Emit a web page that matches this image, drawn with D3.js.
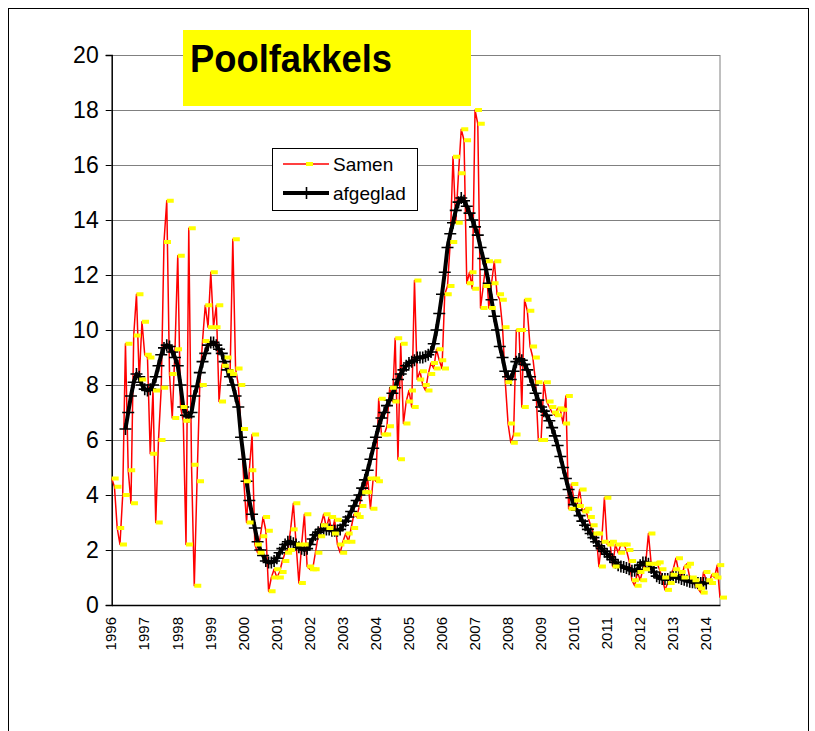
<!DOCTYPE html>
<html>
<head>
<meta charset="utf-8">
<script src="https://cdn.jsdelivr.net/npm/d3@7"></script>
<style>
  body { margin: 0; background: #fff; }
  text { font-family: Arial, "Liberation Sans", sans-serif; }
</style>
</head>
<body>
<svg id="chart" width="815" height="731"></svg>
<script>
// monthly values, jan 1996 .. jun 2014
const yearLabels = ["1996","1997","1998","1999","2000","2001","2002","2003","2004","2005",
                    "2006","2007","2008","2009","2010","2011","2012","2013","2014"];
const yTicks = [0, 2, 4, 6, 8, 10, 12, 14, 16, 18, 20];

const samen = [
  4.6, 4.3, 2.8, 2.2, 4.0, 9.5, 4.9, 3.7, 9.8, 11.3, 8.2, 10.3,      // 1996
  9.1, 9.0, 5.5, 7.8, 3.0, 6.0, 7.9, 13.2, 14.7, 8.4, 6.8, 9.3,      // 1997
  12.7, 7.2, 6.7, 2.2, 13.7, 5.1, 0.7, 4.5, 8.0, 9.6, 10.9, 10.1,    // 1998
  12.1, 10.1, 10.9, 7.4, 8.7, 9.0, 8.5, 8.4, 13.3, 8.6, 8.0, 6.4,    // 1999
  4.5, 3.0, 4.9, 6.2, 2.2, 1.9, 2.5, 3.2, 2.7, 0.5, 1.0, 1.3,        // 2000
  1.0, 1.2, 1.6, 1.9, 2.0, 2.75, 3.7, 2.2, 0.8, 2.2, 3.3, 1.4,       // 2001
  1.3, 1.3, 1.9, 2.5, 2.9, 3.3, 2.8, 3.2, 2.6, 3.1, 2.2, 1.9,        // 2002
  2.3, 2.6, 2.3, 2.8, 3.3, 3.2, 3.6, 4.1, 4.1, 4.6, 3.5, 4.6,        // 2003
  4.5, 7.5, 6.2, 6.2, 6.5, 7.9, 7.4, 9.7, 5.3, 9.5, 6.6, 7.4,        // 2004
  7.8, 7.2, 11.8, 8.2, 8.5, 8.0, 7.8, 8.4, 8.8, 8.6, 9.3, 8.9,       // 2005
  8.6, 11.3, 11.6, 13.2, 16.3, 13.9, 15.7, 17.3, 16.9, 11.7, 12.1, 11.5, // 2006
  18.0, 17.5, 10.8, 11.6, 12.5, 10.8, 11.7, 12.5, 11.3, 11.1, 10.1, 8.1, // 2007
  6.6, 5.9, 6.2, 10.0, 10.0, 7.2, 11.1, 10.7, 9.4, 9.0, 8.1, 6.0,    // 2008
  6.0, 8.1, 7.4, 7.2, 7.0, 6.9, 7.15, 7.1, 6.6, 7.6, 3.5, 4.4,       // 2009
  3.8, 3.6, 4.2, 3.4, 3.5, 3.2, 2.9, 2.6, 2.6, 1.4, 2.3, 3.9,        // 2010
  2.2, 2.3, 1.4, 2.2, 1.9, 2.2, 2.2, 2.0, 1.6, 0.9, 0.7, 1.2,        // 2011
  0.9, 1.3, 1.5, 2.6, 1.5, 1.5, 1.55, 1.3, 1.0, 0.55, 0.8, 1.1,      // 2012
  1.3, 1.7, 1.2, 1.0, 1.4, 1.5, 1.0, 0.9, 0.7, 0.6, 0.45, 1.2,       // 2013
  0.9, 0.8, 1.1, 1.0, 1.45, 0.27                                     // 2014
];

// smoothed series, starts at month index 5 (jun 1996)
const afgegladStart = 5;
const afgeglad = [
  6.4, 7.0, 7.6, 8.1, 8.4, 8.3, 8.0, 7.85, 7.8, 7.85, 8.0, 8.3,
  8.7, 9.1, 9.35, 9.45, 9.4, 9.2, 9.0, 8.7, 8.0, 7.2, 6.9, 6.85,
  7.0, 7.6, 7.95, 8.45, 8.85, 9.15, 9.45, 9.55, 9.55, 9.45, 9.3, 9.15,
  8.85, 8.55, 8.3, 8.0, 7.6, 7.2, 6.1, 5.3, 4.5, 3.8, 3.3, 2.8,
  2.3, 2.0, 1.8, 1.6, 1.55, 1.55, 1.6, 1.7, 1.9, 2.05, 2.2, 2.3,
  2.3, 2.25, 2.2, 2.1, 2.05, 2.0, 2.05, 2.2, 2.4, 2.55, 2.65, 2.75,
  2.75, 2.75, 2.75, 2.7, 2.7, 2.7, 2.75, 2.9, 3.05, 3.2, 3.4, 3.6,
  3.8, 4.0, 4.25, 4.55, 4.9, 5.3, 5.7, 6.1, 6.5, 6.8, 7.0, 7.25,
  7.45, 7.7, 7.9, 8.2, 8.4, 8.55, 8.7, 8.8, 8.85, 8.9, 9.0, 9.0,
  9.0, 9.05, 9.1, 9.2, 9.5, 10.0, 10.6, 11.3, 12.1, 13.0, 13.5, 13.9,
  14.35, 14.65, 14.8, 14.7, 14.5, 14.25, 14.0, 13.75, 13.45, 13.0, 12.6, 12.2,
  11.7, 11.1, 10.5, 10.0, 9.4, 9.0, 8.5, 8.3, 8.2, 8.5, 8.85, 8.95,
  8.9, 8.75, 8.55, 8.3, 8.0, 7.7, 7.45, 7.2, 7.05, 6.9, 6.7, 6.45,
  6.15, 5.8, 5.4, 5.0, 4.6, 4.2, 3.9, 3.65, 3.45, 3.25, 3.05, 2.9,
  2.75, 2.6, 2.45, 2.3, 2.15, 2.05, 1.95, 1.85, 1.75, 1.65, 1.55, 1.45,
  1.4, 1.38, 1.35, 1.3, 1.25, 1.25, 1.3, 1.45, 1.55, 1.55, 1.5, 1.35,
  1.2, 1.05, 0.98, 0.95, 0.95, 0.95, 1.0, 1.02, 1.02, 1.0, 0.95, 0.92,
  0.88, 0.85, 0.83, 0.82, 0.8, 0.8, 0.8, 0.78
];

const svg = d3.select("#chart");

const x = d3.scaleLinear().domain([0, samen.length - 1]).range([111.7, 720]);
const y = d3.scaleLinear().domain([0, 20]).range([605, 55]);

// outer frame
svg.append("rect")
  .attr("x", 8.5).attr("y", 8.5)
  .attr("width", 800).attr("height", 760)
  .attr("fill", "none").attr("stroke", "#000");

// horizontal gridlines
svg.append("g")
  .selectAll("line")
  .data(yTicks.filter(d => d > 0))
  .join("line")
  .attr("x1", x(0)).attr("x2", x(samen.length - 1))
  .attr("y1", d => Math.round(y(d)) + 0.5).attr("y2", d => Math.round(y(d)) + 0.5)
  .attr("stroke", "#808080").attr("stroke-width", 1);

// right border of the plot
svg.append("line")
  .attr("x1", x(samen.length - 1)).attr("x2", x(samen.length - 1))
  .attr("y1", y(20)).attr("y2", y(0))
  .attr("stroke", "#808080");

// y axis
const yAxis = svg.append("g")
  .attr("transform", "translate(" + x(0) + ",0)")
  .call(d3.axisLeft(y).tickValues(yTicks).tickSize(6).tickPadding(7).tickFormat(d3.format("d")));
yAxis.select(".domain").attr("stroke", "#000").attr("stroke-width", 1.5);
yAxis.selectAll(".tick line").attr("stroke", "#000");
yAxis.selectAll("text")
  .attr("font-size", 23).attr("font-family", "Arial, 'Liberation Sans', sans-serif").attr("fill", "#000");

// x axis (category axis, label every 12 months)
const xAxis = svg.append("g")
  .attr("transform", "translate(0," + y(0) + ")")
  .call(d3.axisBottom(x)
    .tickValues(yearLabels.map((d, i) => i * 12))
    .tickSize(0)
    .tickFormat((d, i) => yearLabels[i]));
xAxis.select(".domain").attr("stroke", "#000").attr("stroke-width", 1.5);
xAxis.selectAll("text")
  .attr("font-size", 15).attr("font-family", "Arial, 'Liberation Sans', sans-serif").attr("fill", "#000")
  .attr("text-anchor", "end")
  .attr("transform", "translate(-1,12) rotate(-90)")
  .attr("x", 0).attr("y", 0).attr("dy", "0.35em");

// title box
svg.append("rect")
  .attr("x", 183).attr("y", 30).attr("width", 288).attr("height", 76)
  .attr("fill", "#ffff00");
svg.append("text")
  .attr("x", 190).attr("y", 72)
  .attr("font-family", "'Open Sans', 'Noto Sans', sans-serif")
  .attr("font-weight", "bold").attr("font-size", 38)
  .attr("textLength", 202).attr("lengthAdjust", "spacingAndGlyphs")
  .text("Poolfakkels");

// lines
const lineSamen = d3.line().x((d, i) => x(i)).y(d => y(d));
const lineAfg = d3.line().x((d, i) => x(i + afgegladStart)).y(d => y(d));

svg.append("path")
  .datum(samen)
  .attr("d", lineSamen)
  .attr("fill", "none").attr("stroke", "#ff0000").attr("stroke-width", 1.5)
  .attr("stroke-linejoin", "round");

svg.append("path")
  .datum(afgeglad)
  .attr("d", lineAfg)
  .attr("fill", "none").attr("stroke", "#000").attr("stroke-width", 4)
  .attr("stroke-linejoin", "round");

// plus markers
svg.append("g")
  .selectAll("path")
  .data(afgeglad)
  .join("path")
  .attr("d", (d, i) => {
    const cx = x(i + afgegladStart), cy = y(d);
    return "M" + (cx - 6) + "," + cy + "H" + (cx + 6) + "M" + cx + "," + (cy - 6) + "V" + (cy + 6);
  })
  .attr("stroke", "#000").attr("stroke-width", 1.6).attr("fill", "none");

// yellow dash markers
svg.append("g")
  .selectAll("rect")
  .data(samen)
  .join("rect")
  .attr("x", (d, i) => x(i))
  .attr("y", d => y(d) - 2)
  .attr("width", 7).attr("height", 4)
  .attr("fill", "#ffff00");

// legend
const lg = svg.append("g");
lg.append("rect")
  .attr("x", 272.5).attr("y", 148.5).attr("width", 145).attr("height", 62)
  .attr("fill", "#fff").attr("stroke", "#000");
lg.append("line")
  .attr("x1", 283).attr("x2", 329).attr("y1", 164).attr("y2", 164)
  .attr("stroke", "#ff0000").attr("stroke-width", 1.5);
lg.append("rect")
  .attr("x", 306).attr("y", 162).attr("width", 7).attr("height", 4)
  .attr("fill", "#ffff00");
lg.append("text")
  .attr("x", 333).attr("y", 171).attr("font-size", 19)
  .text("Samen");
lg.append("line")
  .attr("x1", 283).attr("x2", 329).attr("y1", 193).attr("y2", 193)
  .attr("stroke", "#000").attr("stroke-width", 4);
lg.append("line")
  .attr("x1", 306.5).attr("x2", 306.5).attr("y1", 187).attr("y2", 199)
  .attr("stroke", "#000").attr("stroke-width", 1.6);
lg.append("text")
  .attr("x", 333).attr("y", 200).attr("font-size", 19)
  .text("afgeglad");
</script>
</body>
</html>
